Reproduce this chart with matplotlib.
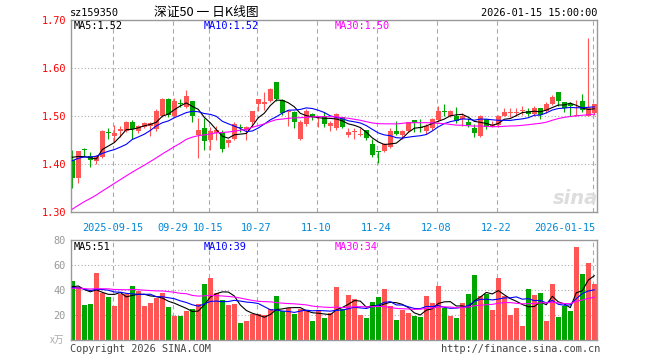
import numpy as np
import pandas as pd
import matplotlib
matplotlib.use('Agg')
from matplotlib import pyplot as plt

# 深证50 ETF 日K (2025-09-04 ~ 2026-01-15), 88 个交易日
opens = [1.408, 1.370, 1.430, 1.416, 1.406, 1.415, 1.466, 1.458, 1.468, 1.469,
         1.487, 1.469, 1.478, 1.480, 1.472, 1.499, 1.535, 1.499, 1.527, 1.519,
         1.531, 1.460, 1.476, 1.450, 1.464, 1.467, 1.443, 1.452, 1.478, 1.471,
         1.488, 1.524, 1.526, 1.531, 1.571, 1.533, 1.508, 1.509, 1.452, 1.483,
         1.504, 1.498, 1.499, 1.480, 1.474, 1.497, 1.461, 1.467, 1.460, 1.471,
         1.442, 1.427, 1.427, 1.436, 1.469, 1.460, 1.469, 1.492, 1.477, 1.469,
         1.474, 1.492, 1.511, 1.501, 1.500, 1.494, 1.487, 1.474, 1.459, 1.494,
         1.478, 1.481, 1.501, 1.507, 1.507, 1.511, 1.510, 1.505, 1.517, 1.510,
         1.525, 1.551, 1.530, 1.526, 1.500, 1.531, 1.500, 1.506]
highs = [1.429, 1.428, 1.434, 1.424, 1.418, 1.471, 1.474, 1.481, 1.480, 1.490,
         1.491, 1.481, 1.487, 1.488, 1.514, 1.538, 1.537, 1.537, 1.535, 1.554,
         1.532, 1.495, 1.495, 1.478, 1.480, 1.471, 1.453, 1.488, 1.483, 1.480,
         1.511, 1.535, 1.551, 1.558, 1.571, 1.535, 1.512, 1.510, 1.492, 1.514,
         1.507, 1.500, 1.509, 1.490, 1.506, 1.498, 1.474, 1.474, 1.474, 1.471,
         1.452, 1.428, 1.443, 1.476, 1.489, 1.470, 1.488, 1.492, 1.493, 1.483,
         1.495, 1.521, 1.525, 1.513, 1.519, 1.506, 1.496, 1.483, 1.502, 1.494,
         1.490, 1.502, 1.517, 1.516, 1.516, 1.521, 1.517, 1.521, 1.517, 1.530,
         1.544, 1.551, 1.530, 1.530, 1.533, 1.546, 1.662, 1.526]
lows = [1.351, 1.361, 1.415, 1.394, 1.399, 1.413, 1.453, 1.446, 1.457, 1.466,
        1.453, 1.464, 1.474, 1.458, 1.469, 1.497, 1.497, 1.497, 1.519, 1.517,
        1.488, 1.413, 1.429, 1.429, 1.450, 1.426, 1.435, 1.449, 1.467, 1.450,
        1.478, 1.511, 1.513, 1.529, 1.532, 1.502, 1.480, 1.476, 1.450, 1.480,
        1.492, 1.478, 1.478, 1.469, 1.471, 1.474, 1.457, 1.452, 1.458, 1.450,
        1.415, 1.403, 1.425, 1.433, 1.460, 1.452, 1.467, 1.467, 1.467, 1.463,
        1.471, 1.487, 1.499, 1.497, 1.485, 1.480, 1.478, 1.457, 1.457, 1.473,
        1.477, 1.478, 1.499, 1.497, 1.499, 1.502, 1.499, 1.499, 1.494, 1.506,
        1.522, 1.521, 1.509, 1.500, 1.500, 1.509, 1.499, 1.503]
closes = [1.370, 1.428, 1.429, 1.408, 1.417, 1.469, 1.464, 1.465, 1.472, 1.488,
          1.472, 1.480, 1.486, 1.486, 1.511, 1.535, 1.502, 1.531, 1.526, 1.542,
          1.499, 1.471, 1.448, 1.469, 1.471, 1.431, 1.450, 1.483, 1.476, 1.478,
          1.510, 1.535, 1.530, 1.556, 1.535, 1.507, 1.510, 1.488, 1.488, 1.510,
          1.497, 1.499, 1.483, 1.486, 1.504, 1.478, 1.467, 1.468, 1.463, 1.455,
          1.419, 1.425, 1.441, 1.469, 1.463, 1.469, 1.487, 1.485, 1.476, 1.480,
          1.494, 1.510, 1.508, 1.510, 1.490, 1.499, 1.481, 1.464, 1.500, 1.478,
          1.481, 1.499, 1.508, 1.508, 1.508, 1.513, 1.505, 1.516, 1.502, 1.525,
          1.540, 1.531, 1.517, 1.521, 1.502, 1.512, 1.516, 1.524]
# 成交量 (万)
volumes = [47.2, 42.7, 28.0, 28.8, 53.9, 37.3, 34.7, 27.5, 36.5, 36.5,
           43.2, 39.2, 27.5, 29.9, 33.9, 37.3, 26.7, 19.5, 19.5, 23.5,
           24.8, 28.5, 44.8, 49.9, 37.3, 32.0, 28.0, 28.8, 13.9, 15.5,
           20.8, 20.8, 20.0, 24.8, 35.2, 23.5, 25.3, 20.8, 24.8, 23.0,
           15.2, 23.2, 17.9, 22.0, 42.1, 24.8, 36.0, 32.8, 20.0, 17.9,
           30.4, 34.7, 40.8, 27.2, 16.0, 24.0, 21.9, 19.5, 18.7, 35.2,
           29.6, 43.2, 25.9, 19.5, 17.9, 30.0, 36.5, 52.0, 35.2, 36.5,
           24.0, 49.9, 35.2, 20.0, 25.9, 11.2, 40.8, 36.0, 37.9, 15.2,
           44.8, 18.7, 27.5, 23.2, 74.7, 52.8, 61.6, 44.8]
# 图外前 29 个交易日 (只用于计算均线)
prev_closes = [1.19, 1.20, 1.21, 1.20, 1.22, 1.23, 1.22, 1.24, 1.25, 1.24,
               1.26, 1.27, 1.26, 1.28, 1.29, 1.28, 1.30, 1.31, 1.30, 1.36,
               1.38, 1.40, 1.41, 1.40, 1.41, 1.42, 1.43, 1.42, 1.43]
prev_volumes = [35, 42, 38, 45, 40, 36, 44, 39, 41, 37, 43, 40, 38, 42, 39,
                41, 37, 44, 33, 66, 45, 38, 40, 44, 39, 40, 42, 38, 46]

tick_idx = [7, 17, 23, 31, 41, 51, 61, 71, 87]
tick_labels = ['2025-09-15', '09-29', '10-15', '10-27', '11-10',
               '11-24', '12-08', '12-22', '2026-01-15']

RED = '#ff5555'
GREEN = '#00a600'
MONO = 'DejaVu Sans Mono'

n = len(closes)
x = np.arange(n)
o = np.array(opens)
c = np.array(closes)
up = c >= o
colors = [RED if u else GREEN for u in up]

# 均线
cs = pd.Series(prev_closes + closes)
vs = pd.Series(prev_volumes + volumes)
ma = {k: cs.rolling(k).mean().values[-n:] for k in (5, 10, 30)}
vma = {k: vs.rolling(k).mean().values[-n:] for k in (5, 10, 30)}

fig = plt.figure(figsize=(6.6, 3.6), dpi=100)
L, W = 70.7 / 660, 526.3 / 660
ax1 = fig.add_axes([L, 1 - 212 / 360, W, 192 / 360])
ax2 = fig.add_axes([L, 1 - 340 / 360, W, 100 / 360])

# K 线
ax1.vlines(x, lows, highs, colors=colors, lw=0.8, zorder=2)
body = np.maximum(np.abs(c - o), 0.0015)
ax1.bar(x, body, bottom=np.minimum(o, c), width=0.8, color=colors, zorder=2)
ax1.plot(x, ma[5], color='black', lw=0.8, zorder=3)
ax1.plot(x, ma[10], color='#0000ff', lw=0.8, zorder=3)
ax1.plot(x, ma[30], color='#ff00ff', lw=0.8, zorder=3)

# 成交量
ax2.bar(x, volumes, width=0.85, color=colors, zorder=2)
ax2.plot(x, vma[5], color='black', lw=0.8, zorder=3)
ax2.plot(x, vma[10], color='#0000ff', lw=0.8, zorder=3)
ax2.plot(x, vma[30], color='#ff00ff', lw=0.8, zorder=3)

for ax in (ax1, ax2):
    ax.set_xlim(-0.27, 87.45)
    for t in tick_idx:
        ax.axvline(t - 0.3, color='#aaaaaa', ls=(0, (4, 3)), lw=0.8, zorder=1)
    for s in ax.spines.values():
        s.set_color('#999999')
        s.set_linewidth(1)
    ax.set_xticks([])
    ax.tick_params(axis='y', length=0, pad=3.5)

ax1.set_ylim(1.30, 1.70)
ax1.set_yticks([1.3, 1.4, 1.5, 1.6, 1.7])
ax1.set_yticklabels(['1.30', '1.40', '1.50', '1.60', '1.70'],
                    color='red', family=MONO, fontsize=7.4)
for v in (1.4, 1.5, 1.6):
    ax1.axhline(v, color='#aaaaaa', ls=(0, (1, 2)), lw=0.8, zorder=1)

ax2.set_ylim(0, 80)
ax2.set_yticks([20, 40, 60, 80])
ax2.set_yticklabels(['20', '40', '60', '80'], color='#999999',
                    family=MONO, fontsize=7.4)
for v in (20, 40, 60):
    ax2.axhline(v, color='#aaaaaa', ls=(0, (1, 2)), lw=0.8, zorder=1)

# 日期标签
for t, lab in zip(tick_idx, tick_labels):
    ha = 'right' if lab == tick_labels[-1] else 'center'
    xx = t + 0.2 if ha == 'right' else t - 0.3
    ax1.text(xx, -0.081, lab, transform=ax1.get_xaxis_transform(),
             ha=ha, va='center', color='#0088d8', family=MONO, fontsize=7.4)


def ftext(px, py, s, **kw):
    kw.setdefault('family', MONO)
    kw.setdefault('fontsize', 7.4)
    fig.text(px / 660, 1 - py / 360, s, va='center', **kw)


ftext(70, 12.5, 'sz159350')
ftext(206, 12.5, '深证50 一 日K线图', ha='center', fontsize=9.2,
      family=['Noto Sans CJK SC', 'DejaVu Sans'])
ftext(597, 12.5, '2026-01-15 15:00:00', ha='right')
ftext(74, 26, 'MA5:1.52', color='black')
ftext(204, 26, 'MA10:1.52', color='#0000ff')
ftext(335, 26, 'MA30:1.50', color='#ff00ff')
ftext(74, 246.5, 'MA5:51', color='black')
ftext(204, 246.5, 'MA10:39', color='#0000ff')
ftext(335, 246.5, 'MA30:34', color='#ff00ff')
ftext(64, 340, 'x万', ha='right', color='#aaaaaa', fontsize=7,
      family=['Noto Sans CJK SC', 'DejaVu Sans'])
ftext(70, 349, 'Copyright 2026 SINA.COM', color='#444444')
ftext(600, 349, 'http://finance.sina.com.cn', ha='right', color='#444444')
ftext(575, 199, 'sina', ha='center', color='#dddddd', fontsize=14,
      style='italic', weight='bold', family='DejaVu Sans')

plt.savefig('out.png', dpi=100)
